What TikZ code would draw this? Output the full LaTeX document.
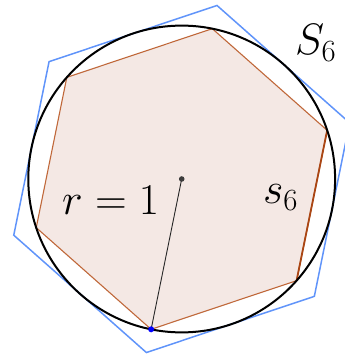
\RequirePackage{fix-cm}
\documentclass[tikz,border=0pt]{standalone}
\definecolor{hexbrown}{RGB}{192,104,58}
\definecolor{hexdark}{RGB}{170,70,20}
\definecolor{hexfill}{RGB}{244,232,228}
\definecolor{hexblue}{RGB}{96,148,250}
\definecolor{dotgray}{RGB}{60,60,60}
\begin{document}
\begin{tikzpicture}[x=1pt,y=1pt,
  lab/.style={font=\fontsize{44}{48}\selectfont, inner sep=0pt, anchor=base west},
  innerhex/.style={draw=hexbrown, line width=1.1pt, fill=hexfill},
  sidehex/.style={draw=hexdark, line width=1.8pt},
  outerhex/.style={draw=hexblue, line width=1.5pt, line join=miter},
  circ/.style={draw=black, line width=2pt},
  radius/.style={draw=black!85, line width=0.9pt},
]
\useasboundingbox (0,0) rectangle (345,354);
\clip (0,0) rectangle (345,354);
\coordinate (O) at (181.7,175);
\foreach \i in {0,...,5} {
  \coordinate (v\i) at ([shift={(258.5+60*\i:153.4)}]O);
  \coordinate (w\i) at ([shift={(258.5+60*\i:177.1)}]O);
}
\filldraw[innerhex] (v0)--(v1)--(v2)--(v3)--(v4)--(v5)--cycle;
\draw[sidehex] (v1)--(v2);
\draw[outerhex] (w0)--(w1)--(w2)--(w3)--(w4)--(w5)--cycle;
\draw[circ] (O) circle (153.4);
\draw[radius] (O)--(v0);
\fill[dotgray] (O) circle (2.8);
\fill[blue] (v0) circle (3);
\node[lab] (rlab) at (62,139) {$r=1$};
\node[lab] (Slab) at (295,299) {$S_6$};
\node[lab] (slab) at (263,150) {$s_6$};
\end{tikzpicture}
\end{document}
